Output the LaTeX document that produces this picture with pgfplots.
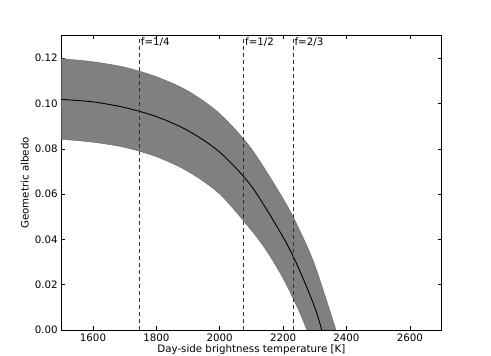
\documentclass[border=0pt]{standalone}
\usepackage{pgfplots}
\pgfplotsset{compat=1.18}
\usepgfplotslibrary{fillbetween}
\usetikzlibrary{calc}
\usepackage{fontspec}
\setmainfont{DejaVu Sans}

\begin{document}
\fontsize{10.3}{12.4}\selectfont
\begin{tikzpicture}
  \begin{axis}[
      scale only axis,
      width=380.2bp, height=294.5bp,
      xmin=1500, xmax=2700,
      ymin=0, ymax=0.13,
      xtick={1600,1800,2000,2200,2400,2600},
      ytick={0,0.02,0.04,0.06,0.08,0.10,0.12},
      /pgf/number format/assume math mode=true,
      xticklabel style={/pgf/number format/1000 sep={}},
      yticklabel style={/pgf/number format/.cd, fixed, fixed zerofill, precision=2},
      major tick length=4bp,
      tick style={black, line width=0.5bp},
      axis line style={line width=0.8bp},
      xlabel={Day-side brightness temperature [K]},
      ylabel={Geometric albedo},
      xlabel style={yshift=4bp},
      ylabel style={yshift=-1bp},
    ]
    % band: upper and lower edges
    \addplot[draw=none, smooth, name path=up] coordinates {
      (1500,0.1198) (1600,0.1184) (1700,0.1160) (1800,0.1118) (1900,0.1055)
      (2000,0.0955) (2100,0.0800) (2200,0.0580) (2250,0.0447) (2300,0.0287) (2367,0)};
    \addplot[draw=none, smooth, name path=lo] coordinates {
      (1500,0.0842) (1600,0.0829) (1700,0.0806) (1800,0.0765) (1900,0.0700)
      (2000,0.0600) (2100,0.0440) (2150,0.0345) (2200,0.0228) (2250,0.0085) (2275,0)};
    \addplot[fill=gray, draw=black!60, line width=0.4pt] fill between[of=up and lo];

    % centre curve
    \addplot[black, line width=0.9bp, smooth] coordinates {
      (1500,0.1018) (1600,0.1007) (1700,0.0982) (1800,0.0942) (1900,0.0880)
      (2000,0.0785) (2100,0.0635) (2200,0.0410) (2250,0.0270) (2300,0.0100) (2322,0)};

    % redistribution factors
    \addplot[black!80, line width=0.8bp, dash pattern=on 4bp off 3bp] coordinates {(1746,0) (1746,0.13)};
    \addplot[black!80, line width=0.8bp, dash pattern=on 4bp off 3bp] coordinates {(2075,0) (2075,0.13)};
    \addplot[black!80, line width=0.8bp, dash pattern=on 4bp off 3bp] coordinates {(2231,0) (2231,0.13)};
    \node[anchor=north west, inner sep=1.5bp, yshift=-1bp] at (axis cs:1746,0.13) {f=1/4};
    \node[anchor=north west, inner sep=1.5bp, yshift=-1bp] at (axis cs:2075,0.13) {f=1/2};
    \node[anchor=north west, inner sep=1.5bp, yshift=-1bp] at (axis cs:2231,0.13) {f=2/3};

    \coordinate (sw) at (rel axis cs:0,0);
    \coordinate (ne) at (rel axis cs:1,1);
  \end{axis}
  \pgfresetboundingbox
  \path[use as bounding box] ($(sw)+(-61.3bp,-25.5bp)$) rectangle ($(ne)+(49.5bp,35.5bp)$);
\end{tikzpicture}
\end{document}
